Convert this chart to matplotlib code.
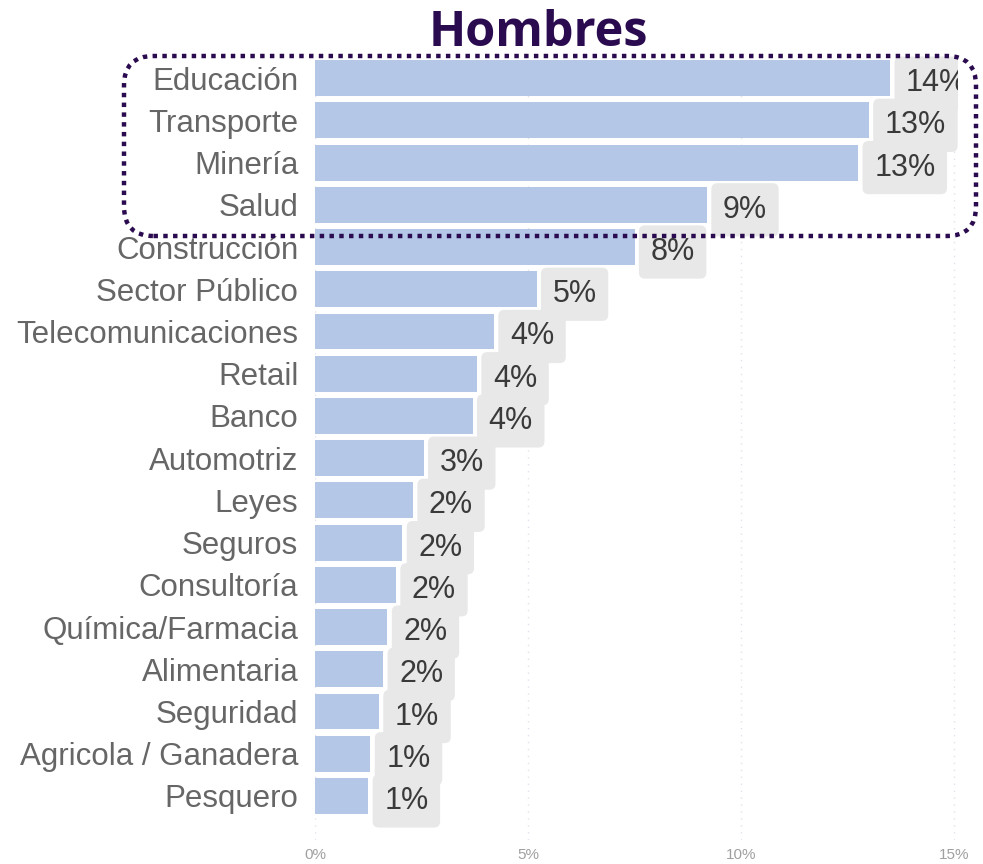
import matplotlib
matplotlib.use("Agg")
import matplotlib.pyplot as plt
from matplotlib.patches import FancyBboxPatch
from matplotlib.transforms import Bbox, TransformedBbox

# datos
sectores = ["Educación", "Transporte", "Minería", "Salud", "Construcción",
            "Sector Público", "Telecomunicaciones", "Retail", "Banco",
            "Automotriz", "Leyes", "Seguros", "Consultoría",
            "Química/Farmacia", "Alimentaria", "Seguridad",
            "Agricola / Ganadera", "Pesquero"]
valores = [13.5, 13.0, 12.75, 9.2, 7.5, 5.2, 4.2, 3.8, 3.7,
           2.55, 2.3, 2.05, 1.9, 1.7, 1.6, 1.5, 1.3, 1.25]
etiquetas = ["14%", "13%", "13%", "9%", "8%", "5%", "4%", "4%", "4%",
             "3%", "2%", "2%", "2%", "2%", "2%", "1%", "1%", "1%"]
ticks = [0, 5, 10, 15]
tick_labels = ["0%", "5%", "10%", "15%"]

W, H = 983, 864
fig = plt.figure(figsize=(W / 100, H / 100), dpi=100)
fuente = "Liberation Sans"

# ejes en pixeles
x0, x1 = 315, 983
y_top, y_bot = 57, 840
ax = fig.add_axes([x0 / W, 1 - y_bot / H, (x1 - x0) / W, (y_bot - y_top) / H])
px_per_pct = 42.6
ax.set_xlim(0, (x1 - x0) / px_per_pct)
row = 42.2
ax.set_ylim(17 + (y_bot - 796) / row, -0.5)

pos = list(range(len(sectores)))
ax.barh(pos, valores, height=0.85, color="#b4c7e7", zorder=2)

ax.set_yticks(pos)
ax.set_yticklabels(sectores, fontsize=22.5, color="#666666", family=fuente)
ax.tick_params(axis="y", length=0, pad=12)
ax.set_xticks(ticks)
ax.set_xticklabels(tick_labels, fontsize=11, color="#a0a0a0", family=fuente)
ax.tick_params(axis="x", length=0, pad=6)
ax.grid(axis="x", color="#e2e2ee", linestyle=(0, (1, 4)), linewidth=1, zorder=0)
for s in ax.spines.values():
    s.set_visible(False)

# etiquetas de valor, recortadas en el borde derecho del visual
clip = TransformedBbox(Bbox([[0, 0], [958 / W, 1]]), fig.transFigure)
for i, (v, t) in enumerate(zip(valores, etiquetas)):
    txt = ax.annotate(t, (v, i), xytext=(16, -5), textcoords="offset pixels",
                      ha="left", va="center", fontsize=22, color="#3a3a3a",
                      family=fuente, zorder=3,
                      bbox=dict(boxstyle="round,pad=0.38,rounding_size=0.2",
                                fc="#e8e8e8", ec="none"))
    txt.set_clip_on(True)
    txt.set_clip_box(clip)

# titulo
fig.text(538 / W, 1 - 33 / H, "Hombres", ha="center", va="center",
         fontsize=35, fontweight="bold", color="#2b0b4f", family="Open Sans")

# recuadro punteado
rect = FancyBboxPatch((124 / W, 1 - 236 / H), (976 - 124) / W, (236 - 56) / H,
                      boxstyle="round,pad=0,rounding_size=0.03",
                      transform=fig.transFigure, fill=False,
                      ec="#2b0b4f", lw=3.2, linestyle=(0, (1, 1.2)),
                      capstyle="butt", mutation_aspect=W / H, zorder=5)
fig.patches.append(rect)

fig.savefig("out.png", dpi=100)
